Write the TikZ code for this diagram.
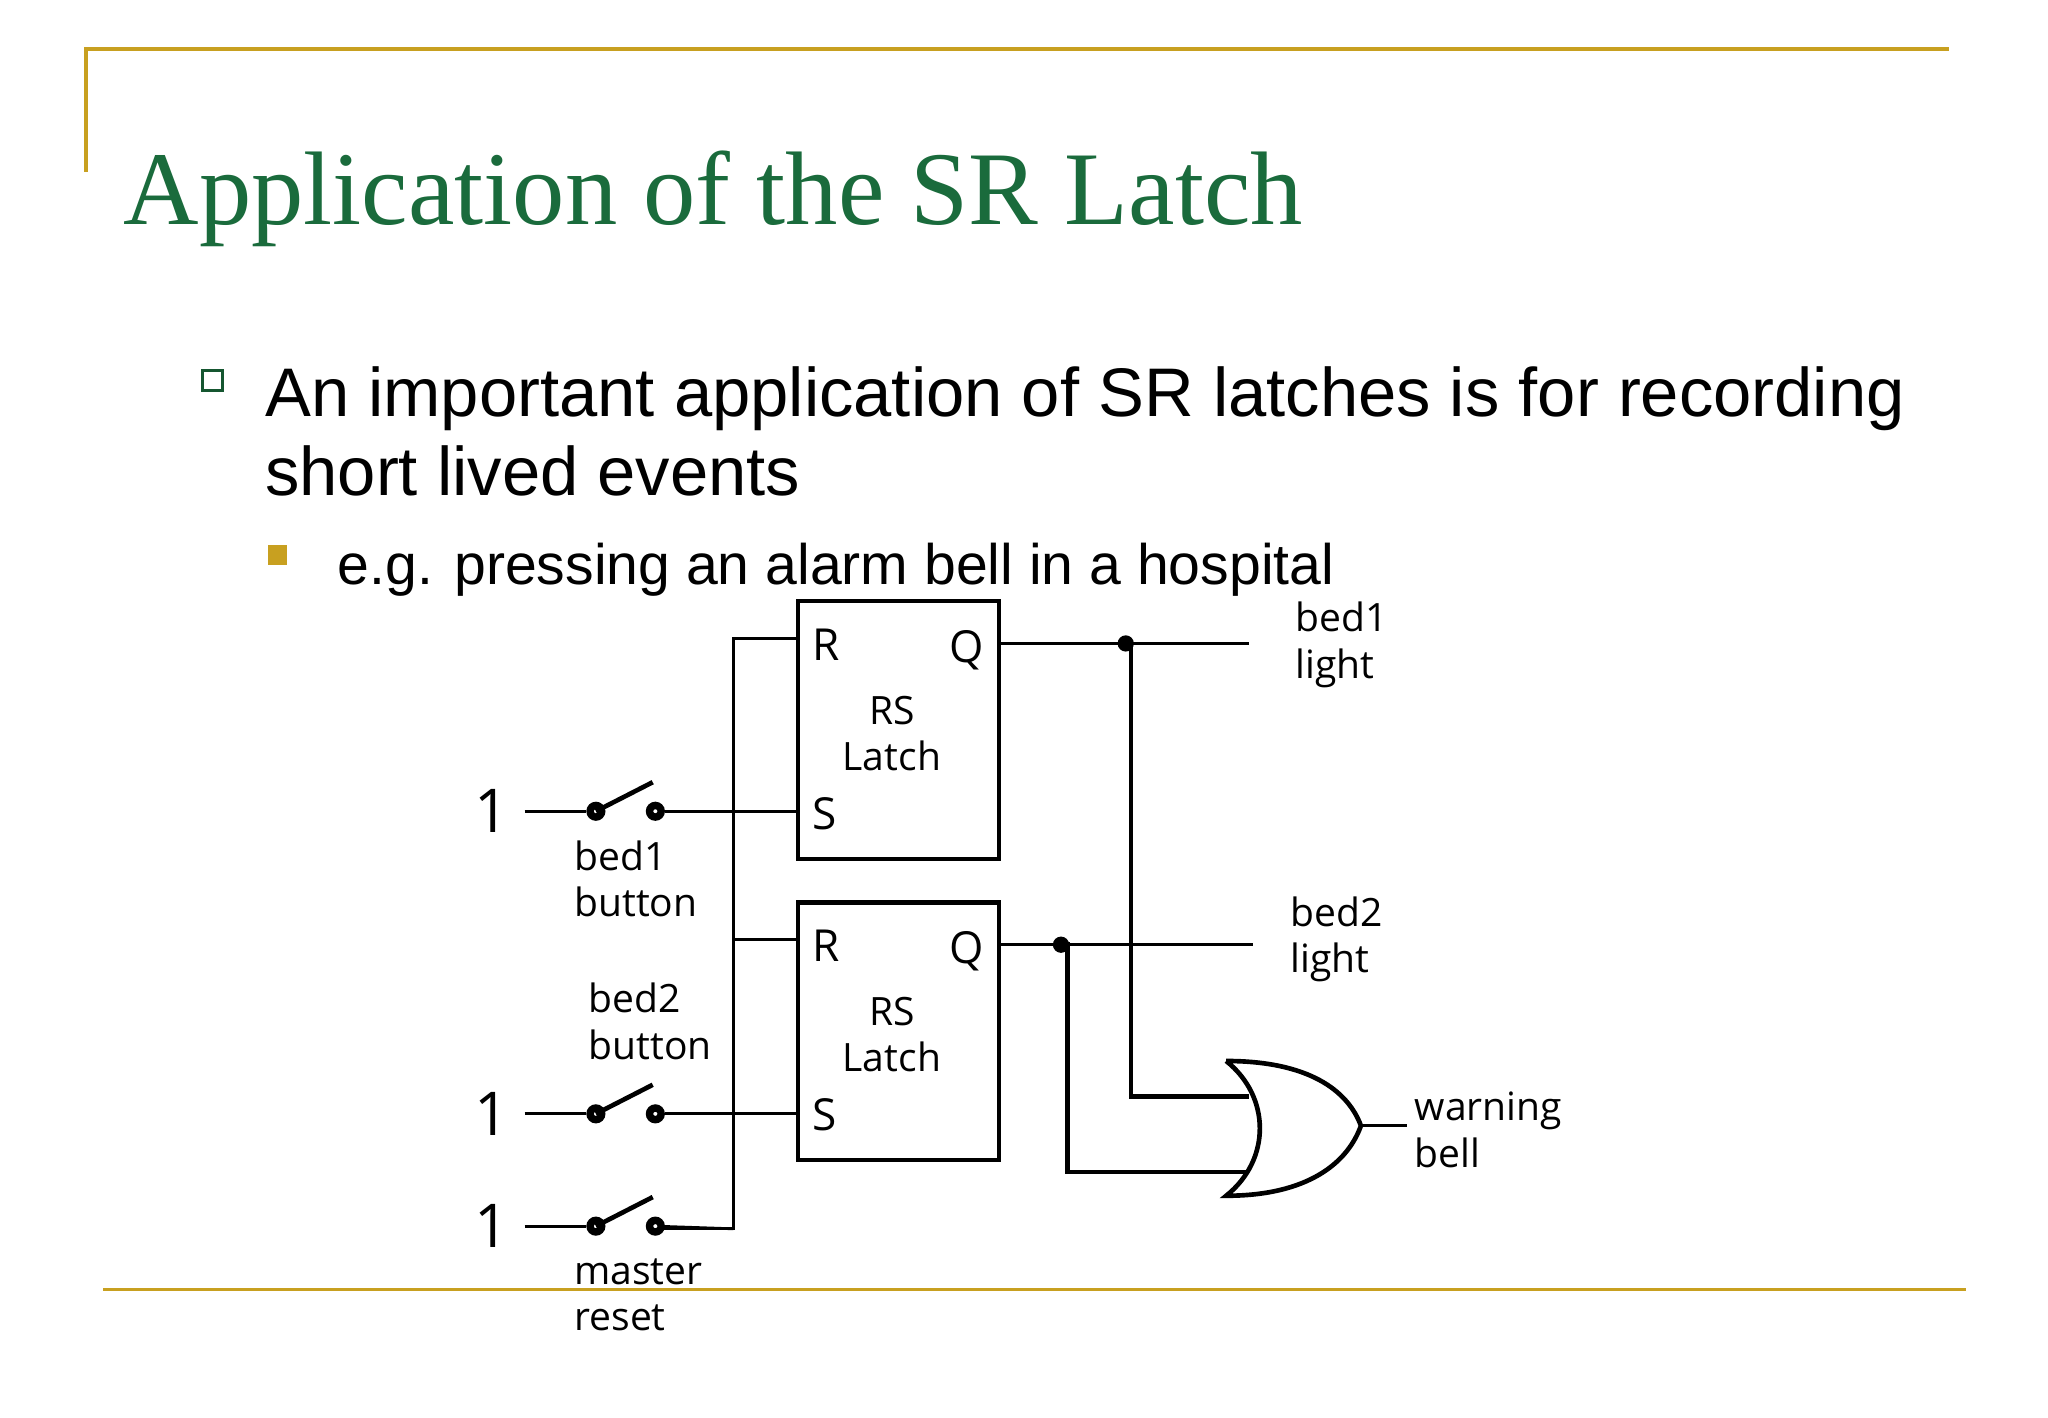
\documentclass[tikz,border=0pt]{standalone}
\usepackage{fontspec}
\setmainfont{Liberation Sans}
\newfontfamily\titlefont{Liberation Serif}
\newfontfamily\diafont{Open Sans}
\definecolor{gold}{HTML}{C8A020}
\definecolor{tgreen}{HTML}{1A6B3C}
\begin{document}
\begin{tikzpicture}[x=0.01cm,y=-0.01cm,
  thin/.style={line width=0.6pt},
  thick/.style={line width=1pt},
  lbl/.style={font=\diafont\fontsize{8.4}{10}\selectfont,anchor=west,align=left,inner sep=0pt},
  pin/.style={font=\diafont\fontsize{9.5}{11}\selectfont,inner sep=0pt},
  one/.style={font=\diafont\fontsize{13}{14}\selectfont,inner sep=0pt},
  dotc/.style={circle,fill=black,inner sep=0pt,minimum size=3.5pt},
  ring/.style={circle,draw,line width=1.6pt,fill=white,inner sep=0pt,minimum size=2.5pt}]
\useasboundingbox (0,0) rectangle (1550,1073);
\fill[white] (0,0) rectangle (1550,1073);
% frame lines
\draw[gold,line width=0.8pt] (65,130) -- (65,37) -- (1475,37);
\draw[gold,line width=0.8pt] (78,976) -- (1488,976);
% title
\node[anchor=base west,inner sep=0pt,text=tgreen,font=\titlefont\fontsize{22.5}{26}\selectfont] (title) at (93,170) {Application of the SR Latch};
% bullets
\node[draw=tgreen!80!black,line width=0.6pt,minimum size=0.15cm,inner sep=0pt] (b1) at (161,288) {};
\node[anchor=base west,inner sep=0pt,font=\fontsize{14.8}{18}\selectfont] (t1) at (200,315) {An important application of SR latches is for recording};
\node[anchor=base west,inner sep=0pt,font=\fontsize{14.8}{18}\selectfont] (t2) at (200,375) {short lived events};
\node[fill=gold,minimum size=0.15cm,inner sep=0pt] (b2) at (210,420) {};
\node[anchor=base west,inner sep=0pt,font=\fontsize{12.3}{15}\selectfont] (t3) at (255,442) {e.g. pressing an alarm bell in a hospital};
% latches
\node[draw,thick,minimum width=1.52cm,minimum height=1.95cm,inner sep=0pt] (L1) at (680,552.5) {};
\node[draw,thick,minimum width=1.52cm,minimum height=1.95cm,inner sep=0pt] (L2) at (680,780.5) {};
\node[pin] (R1) at (625,488) {R};
\node[pin] (Q1) at (732,492) {Q};
\node[pin] (S1) at (624,616) {S};
\node[lbl,anchor=center,align=center] (n1) at (675,555) {RS\\Latch};
\node[pin] (R2) at (625,716) {R};
\node[pin] (Q2) at (732,720) {Q};
\node[pin] (S2) at (624,844) {S};
\node[lbl,anchor=center,align=center] (n2) at (675,783) {RS\\Latch};
% coordinates
\coordinate (r1) at (604,483); \coordinate (r2) at (604,711);
\coordinate (s1) at (604,614); \coordinate (s2) at (604,843);
\coordinate (bt) at (555,483); \coordinate (bb) at (555,930);
\coordinate (b2r) at (555,711);
% bus
\draw[thin] (r1) -- (bt) -- (bb) -- (500,930);
\draw[thin] (b2r) -- (r2);
% switches
\foreach \y/\n in {614/a, 843/b, 928/c}{
  \node[one] (one\n) at (372,\y) {1};
  \coordinate (in\n) at (397,\y);
  \node[ring] (sa\n) at (451,\y) {};
  \node[ring] (sb\n) at (496,\y) {};
  \draw[thin] (in\n) -- (sa\n);
  \draw[thick] (sa\n.center) -- ++(43,-22);
}
\draw[thin] (sba) -- (s1);
\draw[thin] (sbb) -- (s2);
\draw[thin] (sbc) -- (bb);
% outputs
\coordinate (o1) at (756,487); \coordinate (o1e) at (945,487);
\coordinate (o2) at (756,715); \coordinate (o2e) at (948,715);
\draw[thin] (o1) -- (o1e);
\draw[thin] (o2) -- (o2e);
\node[dotc] (d1) at (852,487) {};
\node[dotc] (d2) at (803,715) {};
% OR gate
\coordinate (ga) at (928,803); \coordinate (gb) at (928,905); \coordinate (gt) at (1030,852);
\draw[thick] (ga) .. controls (962,830) and (962,878) .. (gb)
  .. controls (990,905) and (1020,880) .. (gt)
  .. controls (1020,825) and (990,803) .. (ga);
\draw[thick] (d1.center) -- (856,487) -- (856,830) -- (945,830);
\draw[thick] (d2.center) -- (808,715) -- (808,887) -- (945,887);
\draw[thin] (gt) -- (1065,852);
% labels
\node[lbl] (lb1) at (980,488) {bed1\\light};
\node[lbl] (lb2) at (976,711) {bed2\\light};
\node[lbl] (lw) at (1070,855) {warning\\bell};
\node[lbl] (lbb1) at (434,665) {bed1\\button};
\node[lbl] (lbb2) at (445,773) {bed2\\button};
\node[lbl] (lmr) at (434,980) {master\\reset};
\end{tikzpicture}
\end{document}
